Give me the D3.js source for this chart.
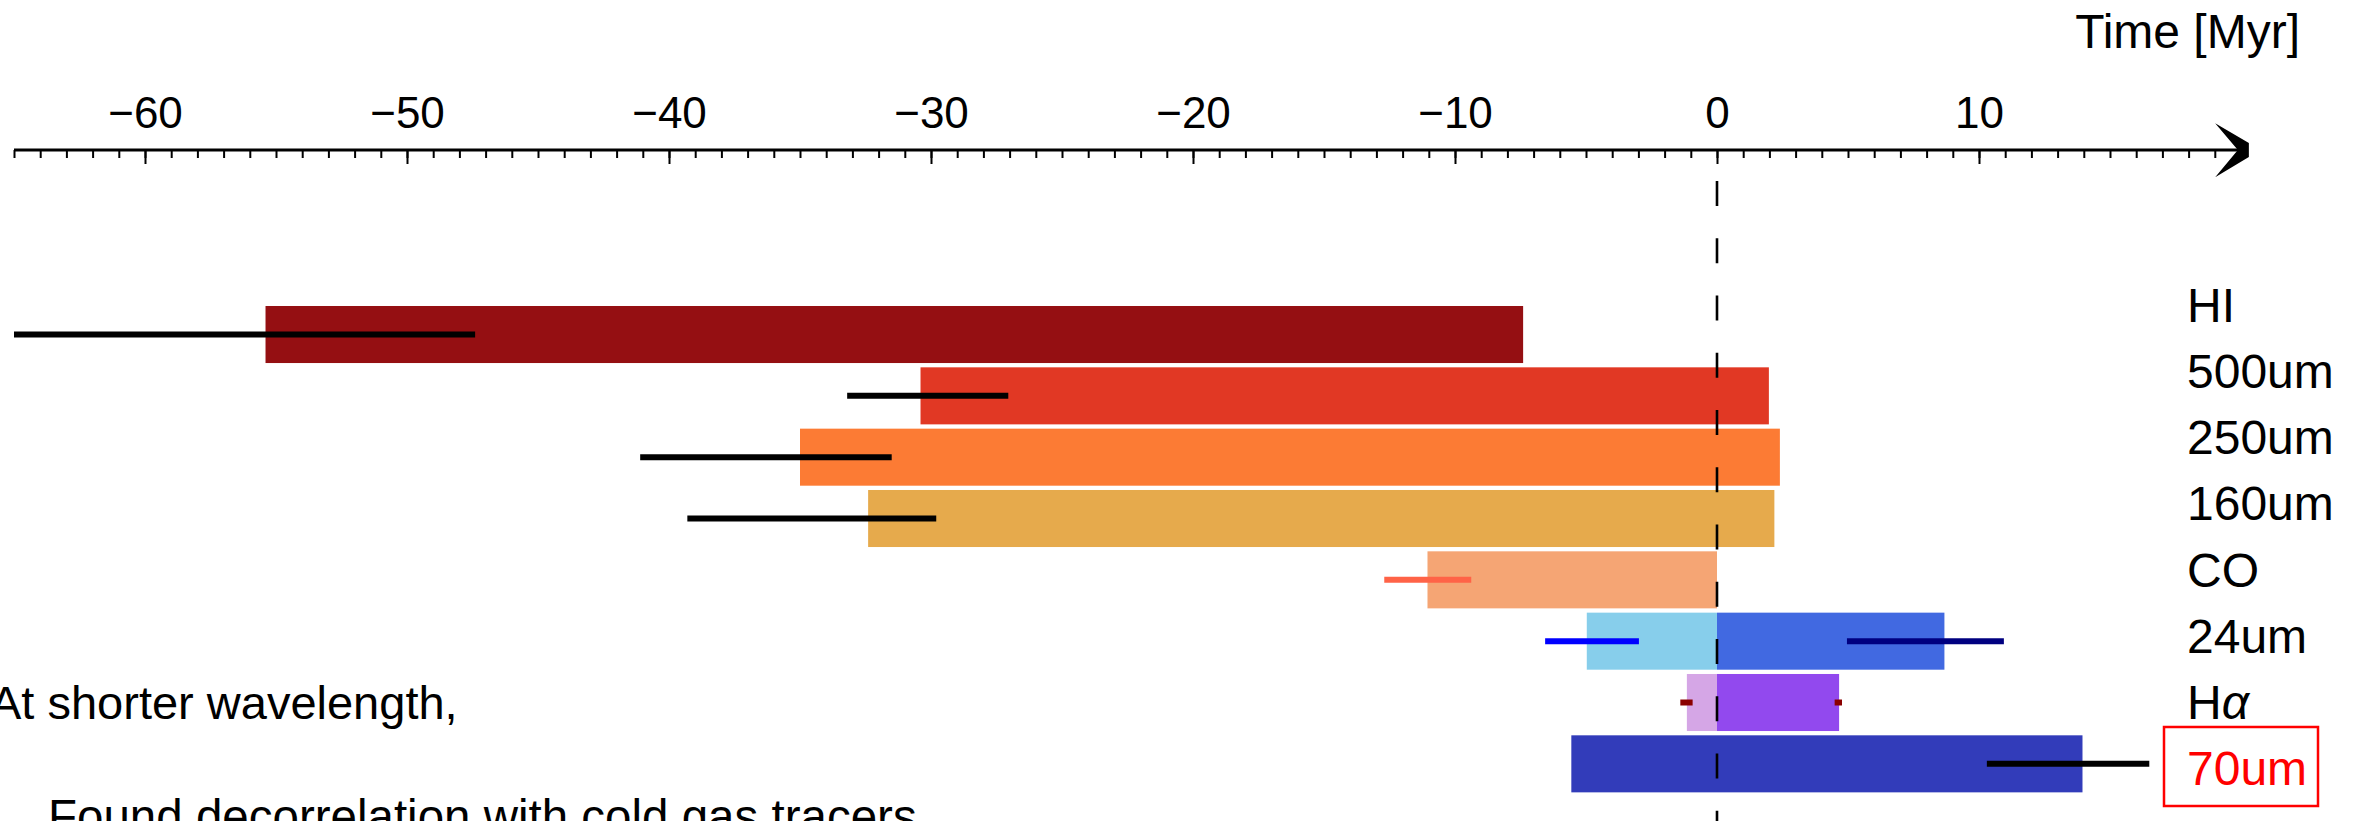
<!DOCTYPE html>
<html>
<head>
<meta charset="utf-8">
<script src="https://cdn.jsdelivr.net/npm/d3@7"></script>
<style>
  html, body { margin: 0; padding: 0; background: #ffffff; }
  svg { display: block; }
  text { font-family: "Liberation Sans", Arial, Helvetica, sans-serif; }
</style>
</head>
<body>
<svg id="chart" width="2361" height="821"></svg>
<script>
// Tracer rows, top to bottom
const tracers = ["HI", "500um", "250um", "160um", "CO", "24um", "Hα", "70um"];

// Time spans (Myr); two-tone rows are split into a part before and after t = 0
const segTracer = ["HI", "500um", "250um", "160um", "CO", "24um", "24um", "Hα", "Hα", "70um"];
const segFrom   = [-55.4, -30.4, -35.0, -32.4, -11.05, -4.97, 0, -1.15, 0, -5.56];
const segTo     = [-7.4, 1.98, 2.4, 2.19, 0, 0, 8.68, 0, 4.66, 13.95];

// Uncertainty ranges on the span edges (Myr)
const errTracer = ["HI", "500um", "250um", "160um", "CO", "24um", "24um", "Hα", "Hα", "70um"];
const errLow    = [-65.0, -33.2, -41.1, -39.3, -12.7, -6.56, 4.96, -1.4, 4.49, 10.3];
const errHigh   = [-47.4, -27.05, -31.5, -29.8, -9.38, -2.98, 10.95, -0.93, 4.77, 16.5];

// Axis ticks
const majorTicks = [-60, -50, -40, -30, -20, -10, 0, 10];
const minorTicks = d3.range(-65, 20, 1);

// Colours
const segColor = ["#950f12", "#e13824", "#fc7b34", "#e6aa4c", "#f5a574",
                  "#87ceeb", "#4169e1", "#d5a6e6", "#9249ee", "#323cba"];
const errColor = ["#000000", "#000000", "#000000", "#000000", "#ff6347",
                  "#0000ff", "#000080", "#8b0000", "#8b0000", "#000000"];

const svg = d3.select("#chart");
const FONT = 48;

const x = d3.scaleLinear().domain([-60, 10]).range([145, 1979]);
const y = d3.scaleBand().domain(tracers).range([303.85, 794.5])
  .paddingInner(0.07).paddingOuter(0.035);
const yLabel = d3.scalePoint().domain(tracers).range([304.5, 767.55]);

const axisY = 150;

// Bars
const segs = segTracer.map((t, i) => ({ t, from: segFrom[i], to: segTo[i], color: segColor[i] }));
svg.append("g").selectAll("rect").data(segs).join("rect")
  .attr("x", d => x(d.from))
  .attr("width", d => x(d.to) - x(d.from))
  .attr("y", d => y(d.t))
  .attr("height", y.bandwidth())
  .attr("fill", d => d.color);

// Zero reference line
svg.append("line")
  .attr("x1", x(0)).attr("x2", x(0))
  .attr("y1", 181).attr("y2", 821)
  .attr("stroke", "#000").attr("stroke-width", 2.6)
  .attr("stroke-dasharray", "25 32.25");

// Uncertainty bars
const errs = errTracer.map((t, i) => ({ t, lo: errLow[i], hi: errHigh[i], color: errColor[i] }));
svg.append("g").selectAll("line").data(errs).join("line")
  .attr("x1", d => x(d.lo)).attr("x2", d => x(d.hi))
  .attr("y1", d => y(d.t) + y.bandwidth() / 2)
  .attr("y2", d => y(d.t) + y.bandwidth() / 2)
  .attr("stroke", d => d.color).attr("stroke-width", 6);

// Time axis: line with arrowhead, minor and major ticks pointing down
const axisEnd = x(20.3);
svg.append("line")
  .attr("x1", x(-65)).attr("x2", axisEnd - 8)
  .attr("y1", axisY).attr("y2", axisY)
  .attr("stroke", "#000").attr("stroke-width", 2.8);
svg.append("path")
  .attr("d", `M${axisEnd - 33.7},${axisY - 26.7} L${axisEnd},${axisY - 7} L${axisEnd},${axisY + 7} L${axisEnd - 33.7},${axisY + 27.3} L${axisEnd - 11},${axisY} Z`)
  .attr("fill", "#000");

const minorAxis = svg.append("g").attr("transform", `translate(0,${axisY})`)
  .call(d3.axisBottom(x).tickValues(minorTicks).tickSize(8).tickFormat(""));
const majorAxis = svg.append("g").attr("transform", `translate(0,${axisY})`)
  .call(d3.axisBottom(x).tickValues(majorTicks).tickSize(14).tickFormat(""));
[minorAxis, majorAxis].forEach(g => {
  g.select(".domain").remove();
  g.selectAll(".tick line").attr("stroke", "#000").attr("stroke-width", 2);
});

const fmt = d => (d < 0 ? "\u2212" + Math.abs(d) : String(d));
const labelAxis = svg.append("g").attr("transform", `translate(0,${axisY})`)
  .call(d3.axisTop(x).tickValues(majorTicks).tickSize(0).tickPadding(22).tickFormat(fmt));
labelAxis.select(".domain").remove();
labelAxis.attr("font-family", null).attr("font-size", null);
labelAxis.selectAll(".tick text")
  .attr("font-size", 44)
  .attr("fill", "#000");

svg.append("text")
  .attr("x", 2300).attr("y", 48)
  .attr("text-anchor", "end")
  .attr("font-size", FONT)
  .text("Time [Myr]");

// Row labels
const labels = svg.append("g");
tracers.forEach(t => {
  const txt = labels.append("text")
    .attr("x", 2187)
    .attr("y", yLabel(t) + 17.5)
    .attr("font-size", FONT)
    .attr("fill", t === "70um" ? "#ff0000" : "#000");
  if (t === "Hα") {
    txt.append("tspan").text("H");
    txt.append("tspan").attr("font-style", "italic").text("α");
  } else {
    txt.text(t);
  }
});

// Highlight box around 70um
svg.append("rect")
  .attr("x", 2164).attr("y", 727)
  .attr("width", 154).attr("height", 79)
  .attr("fill", "none")
  .attr("stroke", "#ff0000").attr("stroke-width", 2.5);

// Notes
svg.append("text")
  .attr("x", -10).attr("y", 719)
  .attr("font-size", 47)
  .text("At shorter wavelength,");
svg.append("text")
  .attr("x", 48).attr("y", 833)
  .attr("font-size", 47.5)
  .text("Found decorrelation with cold gas tracers");
</script>
</body>
</html>
